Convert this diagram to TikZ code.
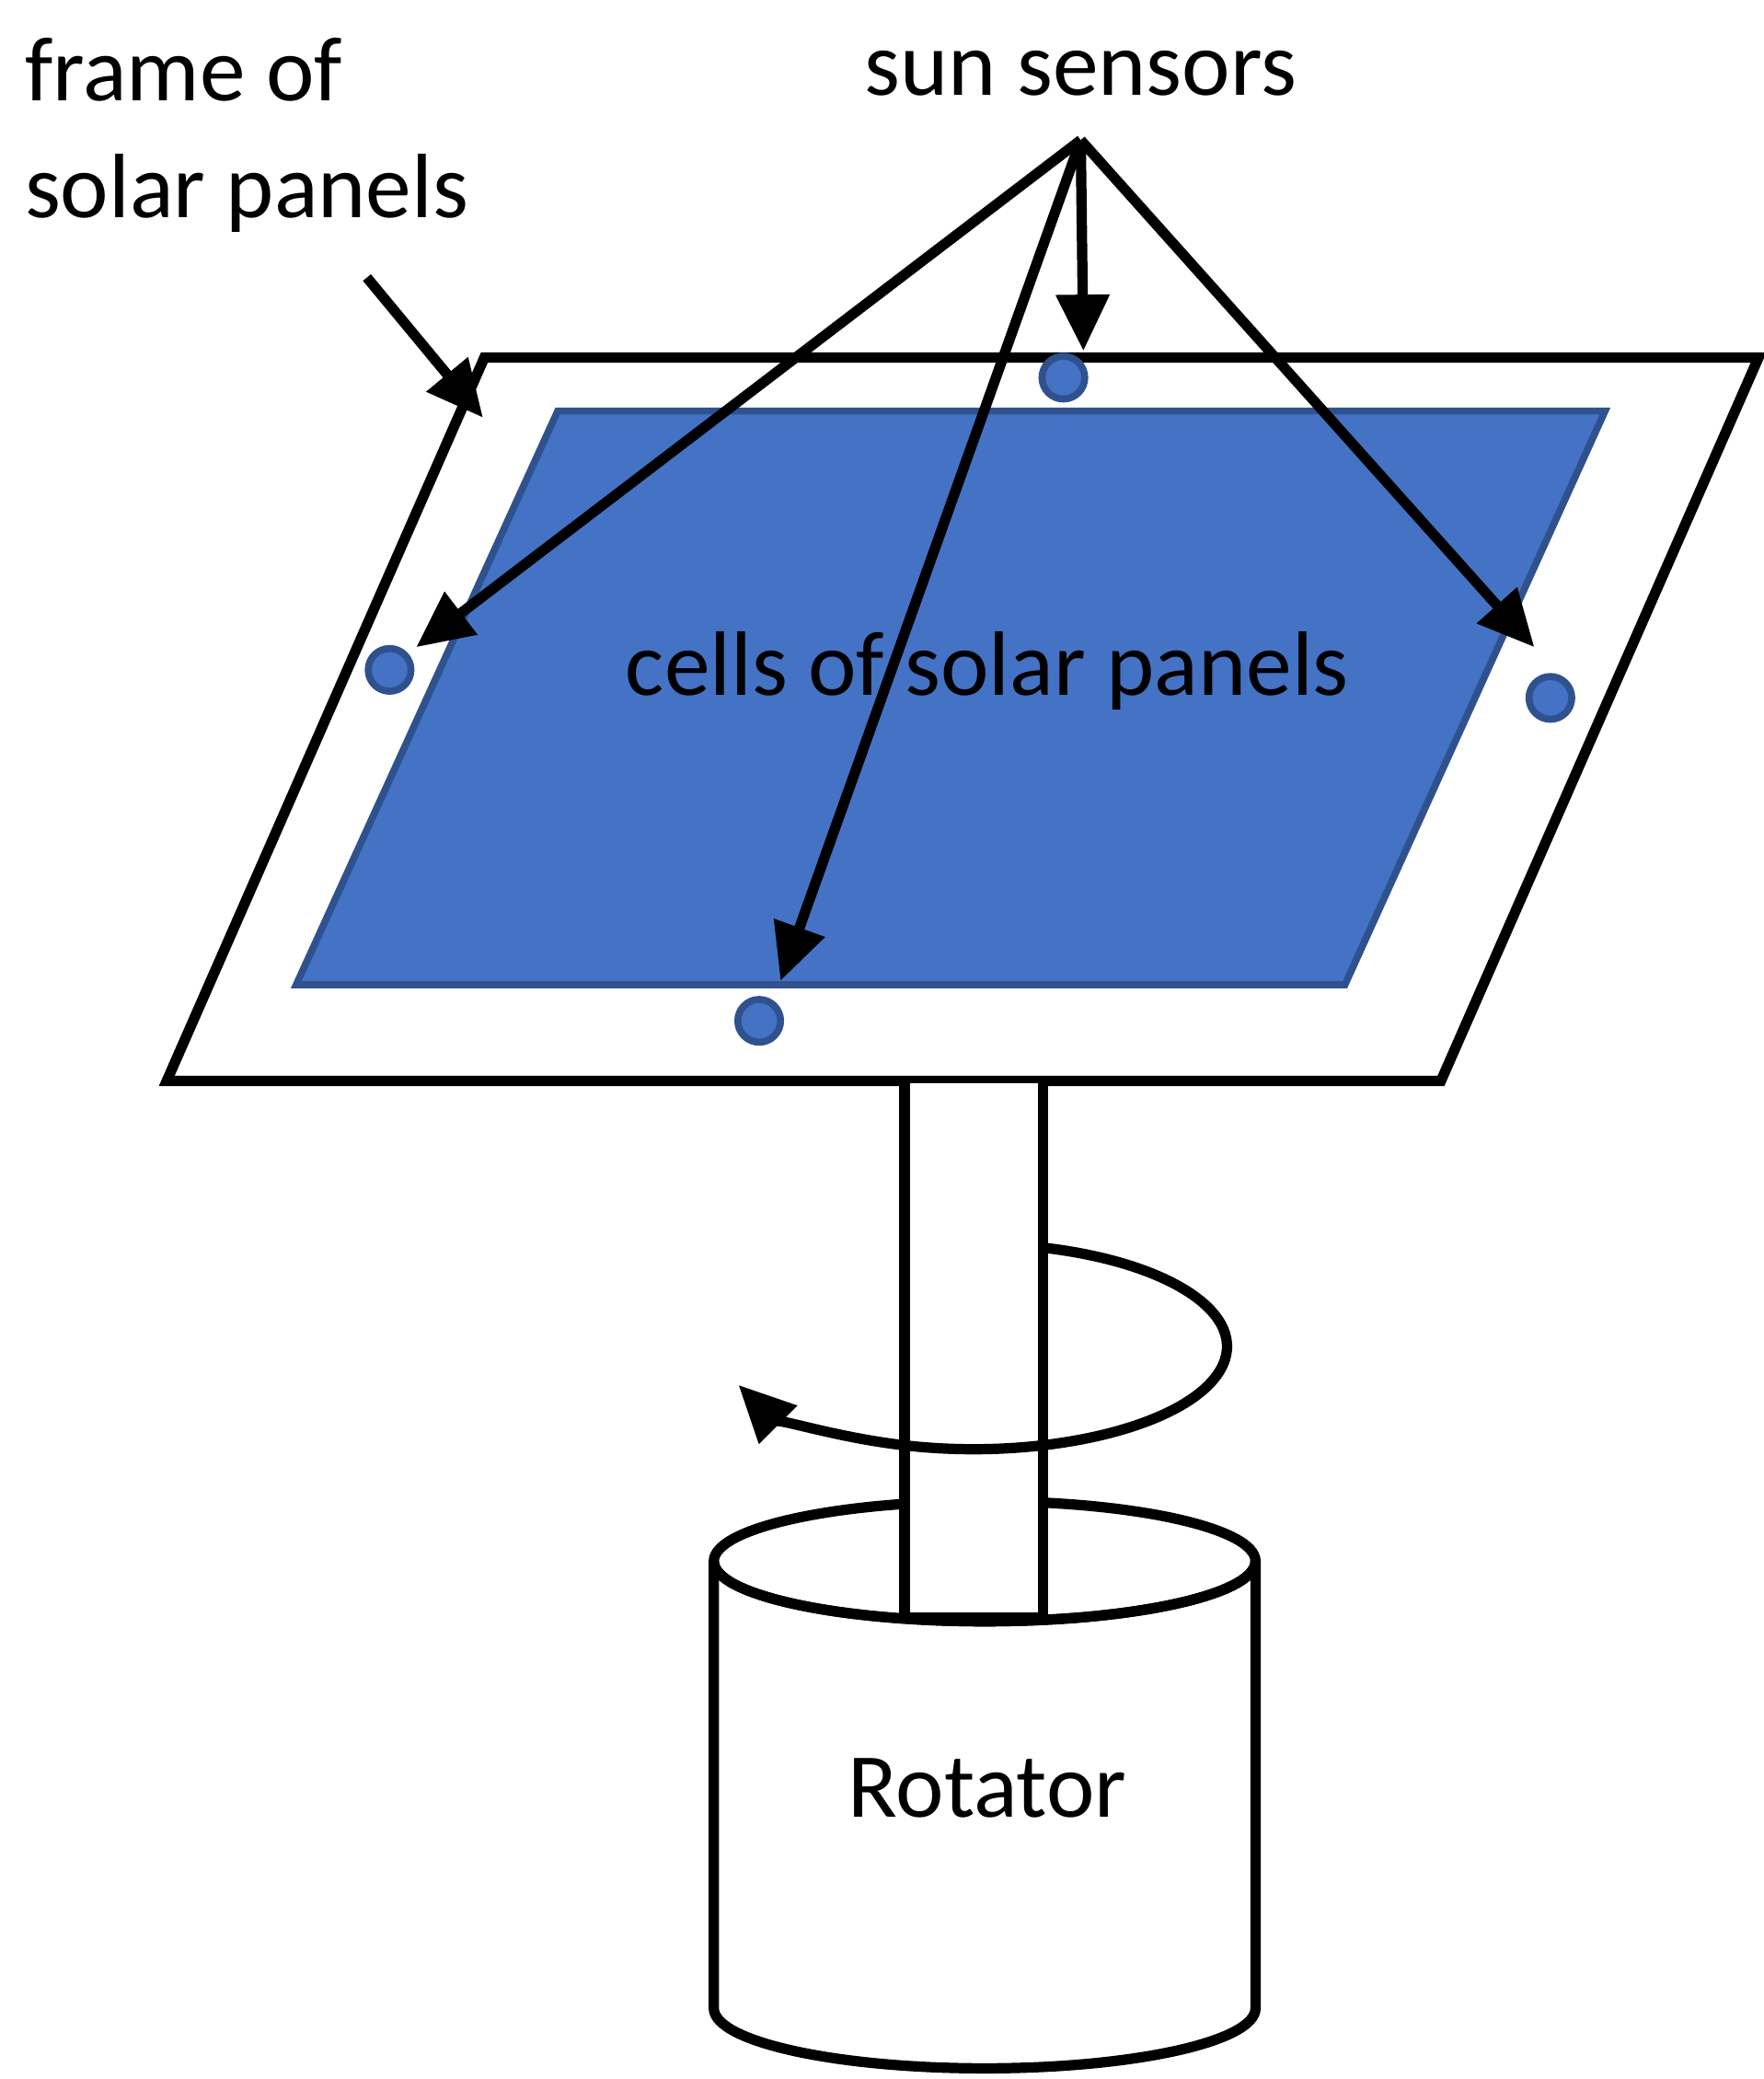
\documentclass[tikz,border=0pt]{standalone}
\usepackage{fontspec}
\setmainfont{Carlito}
\usetikzlibrary{arrows.meta}
\definecolor{cellblue}{HTML}{4472C4}
\definecolor{edgeblue}{HTML}{2F528F}
\begin{document}
\begin{tikzpicture}[x=0.01cm,y=-0.01cm,
  line/.style={line width=2.2pt,black},
  arr/.style={line width=2.2pt,-{Triangle[length=12pt,width=11pt]}},
  sensor/.style={circle,draw=edgeblue,fill=cellblue,line width=1.5pt,inner sep=0pt,minimum size=0.32cm},
  lbl/.style={font=\fontsize{19.5pt}{23pt}\selectfont,inner sep=0pt}]
\useasboundingbox (0,0) rectangle (1322,1558);
\draw[line,fill=white] (363,268) -- (1318,268) -- (1080,810) -- (125,810) -- cycle;
\draw[draw=edgeblue,line width=1.5pt,fill=cellblue] (418,308) -- (1203,308) -- (1008,738) -- (222,738) -- cycle;
\node[sensor] (s1) at (797,283) {};
\node[sensor] (s2) at (292,502) {};
\node[sensor] (s3) at (1162,523) {};
\node[sensor] (s4) at (569,765) {};
\node[lbl] (sun) at (810,55) {sun sensors};
\node[lbl,anchor=west] (fr1) at (18,52) {frame of};
\node[lbl,anchor=west] (fr2) at (18,145) {solar panels};
\node[lbl] (cells) at (740,503) {cells of solar panels};
\coordinate (hub) at (810,105);
\coordinate (e1) at (812,263);
\coordinate (e2) at (312,485);
\coordinate (e3) at (1150,485);
\coordinate (e4) at (585,735);
\foreach \e in {e1,e2,e3,e4} \draw[arr] (hub) -- (\e);
\coordinate (fa) at (275,208);
\coordinate (fb) at (362,313);
\draw[arr] (fa) -- (fb);
% rotator cylinder
\draw[line,fill=white] (535,1170) -- (535,1505) arc[start angle=180,end angle=0,x radius=203,y radius=45] -- (941,1170);
\draw[line,fill=white] (738,1170) ellipse[x radius=203,y radius=45];
\draw[line,fill=white] (678,812) -- (678,1212) -- (782,1212) -- (782,812);
\draw[line] (535,1170) arc[start angle=180,end angle=0,x radius=203,y radius=45];
\node[lbl] (rot) at (740,1340) {Rotator};
% rotation arrow
\draw[line,-{Triangle[length=12pt,width=11pt]}] (782,935) arc[start angle=-74,end angle=158,x radius=190,y radius=77];
\end{tikzpicture}
\end{document}
